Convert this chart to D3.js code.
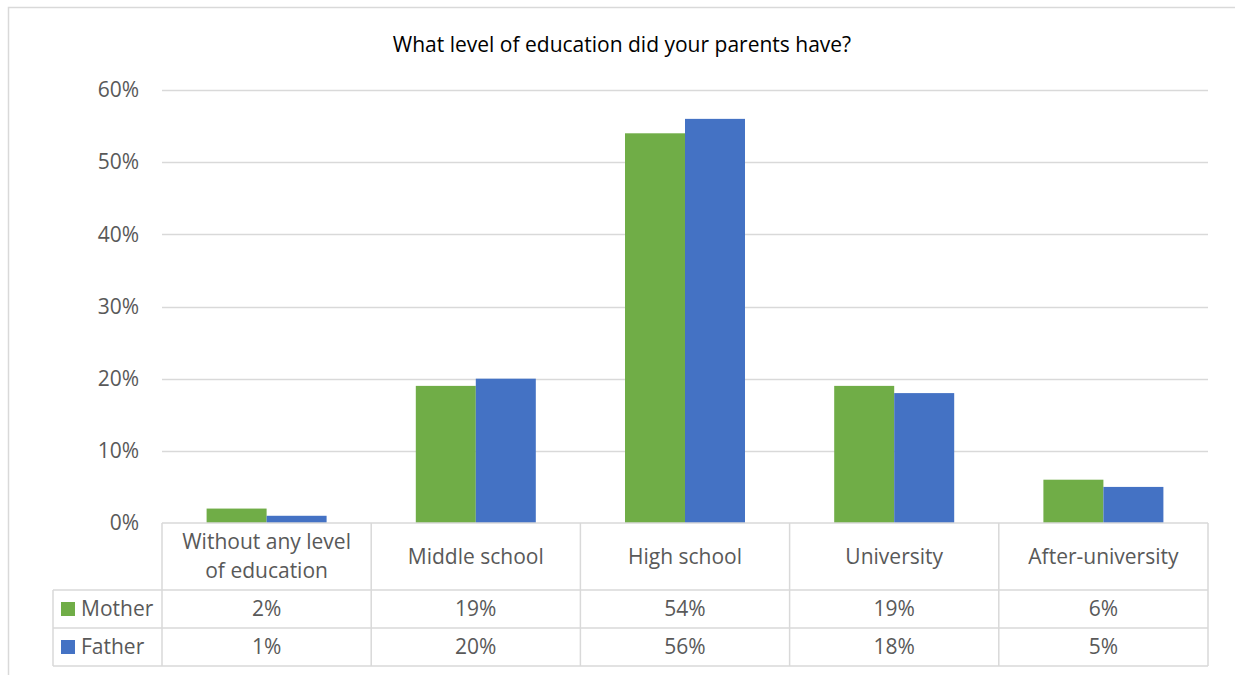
<!DOCTYPE html>
<html><head><meta charset="utf-8">
<script src="https://cdn.jsdelivr.net/npm/d3@7"></script>
<style>body{margin:0;background:#fff;} text{font-family:"Open Sans",sans-serif;}</style>
</head><body>
<svg id="chart" width="1235" height="675"></svg>
<script>
const categories = ["Without any level of education","Middle school","High school","University","After-university"];
const categoryLines = [["Without any level","of education"],["Middle school"],["High school"],["University"],["After-university"]];
const seriesNames = ["Mother","Father"];
const mother = [2,19,54,19,6];
const father = [1,20,56,18,5];
const tickValues = [0,10,20,30,40,50,60];
const colors = ["#70AD47","#4472C4"];
const title = "What level of education did your parents have?";

(function(){
const svg = d3.select("#chart");
const pL = 162, pR = 1208, pT = 90, pB = 523;
const grid = "#d9d9d9", textCol = "#595959";
const fs = 21;

svg.append("path").attr("d","M8.5,675 L8.5,7.5 L1235,7.5").attr("fill","none").attr("stroke",grid).attr("stroke-width",1.5);

svg.append("text").attr("x",622).attr("y",52).attr("text-anchor","middle").attr("font-size",fs).attr("fill","#000").text(title);

const x = d3.scaleBand().domain(categories).range([pL,pR]).paddingInner(0).paddingOuter(0);
const barW = x.bandwidth()*120/209.2;
const xi = d3.scaleBand().domain(seriesNames).range([(x.bandwidth()-barW)/2,(x.bandwidth()+barW)/2]);
const y = d3.scaleLinear().domain([0,60]).range([pB,pT]);

svg.append("g").selectAll("line").data(tickValues.filter(d=>d>0)).join("line")
  .attr("x1",pL).attr("x2",pR).attr("y1",d=>Math.round(y(d))+0.5).attr("y2",d=>Math.round(y(d))+0.5)
  .attr("stroke",grid).attr("stroke-width",1.3);

const yAxis = d3.axisLeft(y).tickValues(tickValues).tickFormat(d=>d+"%").tickSize(0).tickPadding(23);
const ya = svg.append("g").attr("transform",`translate(${pL},0)`).call(yAxis);
ya.select(".domain").remove();
ya.selectAll("text").attr("font-size",fs).attr("fill",textCol).attr("font-family","Open Sans");

const series = [mother,father];
const g = svg.append("g");
categories.forEach((c,i)=>{
  seriesNames.forEach((s,j)=>{
    g.append("rect").attr("x",x(c)+xi(s)).attr("width",xi.bandwidth())
      .attr("y",y(series[j][i])).attr("height",y(0)-y(series[j][i])).attr("fill",colors[j]);
  });
});

const rowY = [523,590,628,666];
const tl = 53;
const tg = svg.append("g").attr("stroke",grid).attr("stroke-width",1.5).attr("fill","none");
tg.append("line").attr("x1",pL).attr("x2",pR).attr("y1",rowY[0]).attr("y2",rowY[0]);
[1,2,3].forEach(k=>tg.append("line").attr("x1",tl).attr("x2",pR).attr("y1",rowY[k]).attr("y2",rowY[k]));
categories.forEach(c=>tg.append("line").attr("x1",x(c)).attr("x2",x(c)).attr("y1",rowY[0]).attr("y2",rowY[3]));
tg.append("line").attr("x1",pR).attr("x2",pR).attr("y1",rowY[0]).attr("y2",rowY[3]);
tg.append("line").attr("x1",tl).attr("x2",tl).attr("y1",rowY[1]).attr("y2",rowY[3]);

categories.forEach((c,i)=>{
  const lines = categoryLines[i];
  const cy = (rowY[0]+rowY[1])/2;
  const lh = 29;
  lines.forEach((t,k)=>{
    svg.append("text").attr("x",x(c)+x.bandwidth()/2).attr("y",cy + (k-(lines.length-1)/2)*lh)
      .attr("dy","0.35em").attr("text-anchor","middle").attr("font-size",fs).attr("fill",textCol).text(t);
  });
});
seriesNames.forEach((s,j)=>{
  const cy = (rowY[j+1]+rowY[j+2])/2;
  svg.append("rect").attr("x",61).attr("y",cy-7).attr("width",14).attr("height",14).attr("fill",colors[j]);
  svg.append("text").attr("x",81).attr("y",cy).attr("dy","0.35em").attr("font-size",fs).attr("fill",textCol).text(s);
  categories.forEach((c,i)=>{
    svg.append("text").attr("x",x(c)+x.bandwidth()/2).attr("y",cy).attr("dy","0.35em")
      .attr("text-anchor","middle").attr("font-size",fs).attr("fill",textCol).text(series[j][i]+"%");
  });
});
})();
</script>
</body></html>
